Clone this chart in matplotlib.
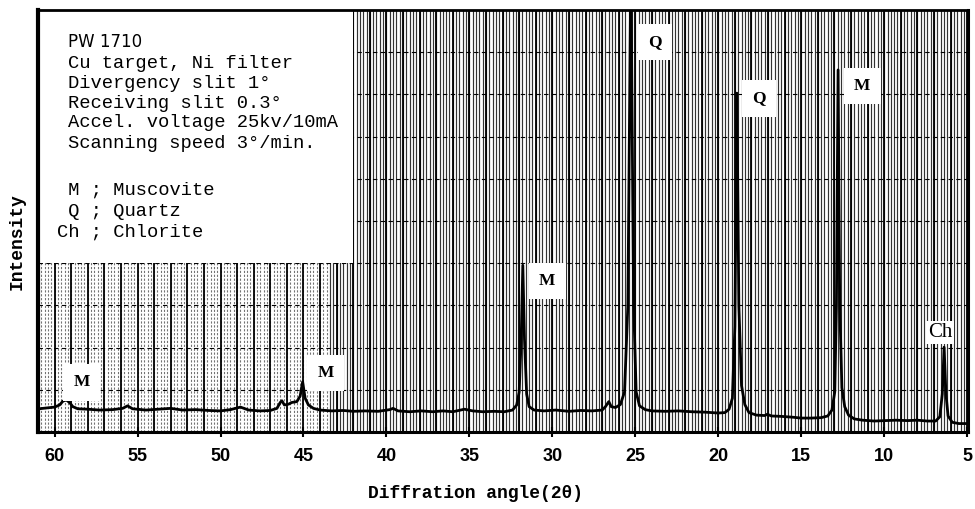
import numpy as np
import matplotlib.pyplot as plt
from matplotlib.patches import Rectangle

# diffractogram trace: 2-theta (deg) and relative intensity
two_theta = [60.95, 60.5, 60.0, 59.7, 59.5, 59.3, 59.1, 58.9, 58.6, 58.0,
             57.3, 56.5, 55.9, 55.6, 55.3, 54.5, 53.7, 53.0, 52.3, 51.5,
             50.7, 50.0, 49.4, 48.8, 48.3, 47.6, 47.0, 46.6, 46.4, 46.3,
             46.15, 45.9, 45.7, 45.4, 45.2, 45.05, 44.9, 44.7, 44.4, 44.0,
             43.3, 42.6, 42.0, 41.3, 40.5, 39.8, 39.6, 39.3, 38.6, 37.9,
             37.2, 36.6, 36.0, 35.3, 34.8, 34.2, 33.5, 32.9, 32.4, 32.15,
             32.0, 31.88, 31.78, 31.68, 31.55, 31.4, 31.1, 30.5, 29.8, 29.0,
             28.3, 27.6, 27.0, 26.8, 26.6, 26.45, 26.2, 25.9, 25.65, 25.45,
             25.27, 25.1, 24.95, 24.75, 24.4, 24.0, 23.2, 22.4, 21.6, 20.8,
             20.0, 19.6, 19.35, 19.15, 19.0, 18.88, 18.76, 18.6, 18.4, 18.15,
             17.7, 17.2, 17.05, 16.8, 16.2, 15.5, 15.0, 14.4, 13.8, 13.4,
             13.15, 12.98, 12.88, 12.78, 12.68, 12.55, 12.38, 12.15, 11.8, 11.3,
             10.6, 10.0, 9.3, 8.6, 8.0, 7.4, 6.9, 6.65, 6.5, 6.39,
             6.28, 6.15, 5.9, 5.5, 4.95]
intensity = [5.5, 5.7, 5.9, 6.4, 7.3, 7.6, 7.0, 6.0, 5.5, 5.4,
             5.2, 5.3, 5.6, 6.2, 5.5, 5.2, 5.4, 5.6, 5.2, 5.3,
             5.1, 5.0, 5.3, 5.9, 5.2, 5.0, 5.1, 5.6, 7.0, 7.4,
             6.4, 6.6, 7.0, 7.2, 8.5, 11.9, 8.0, 6.4, 5.6, 5.2,
             5.0, 5.1, 4.9, 5.0, 4.9, 5.3, 5.6, 5.0, 4.8, 5.0,
             4.8, 5.0, 4.8, 5.4, 5.0, 4.8, 4.9, 4.8, 5.2, 6.4,
             9.5, 22.0, 39.5, 22.0, 9.0, 6.0, 5.2, 5.0, 5.2, 4.9,
             5.1, 5.0, 5.2, 6.0, 7.2, 6.0, 5.8, 6.5, 9.5, 30.0,
             110.0, 30.0, 9.5, 6.2, 5.3, 5.0, 4.9, 5.0, 4.8, 4.7,
             4.5, 4.6, 5.4, 8.0, 25.0, 80.3, 30.0, 11.0, 6.5, 4.6,
             4.0, 3.9, 4.2, 3.8, 3.7, 3.5, 3.3, 3.3, 3.4, 3.8,
             5.2, 9.5, 30.0, 85.8, 30.0, 10.5, 6.0, 4.0, 3.1, 2.8,
             2.6, 2.7, 2.8, 2.7, 2.8, 2.6, 2.6, 3.6, 9.0, 20.1,
             9.0, 3.8, 2.3, 2.0, 2.0]

# phase labels on the peaks
peak_labels = ["M", "M", "M", "Q", "Q", "M", "Ch"]
label_x = [58.37, 43.67, 30.30, 23.80, 17.53, 11.33, 6.63]
label_y = [11.8, 14.0, 35.8, 92.4, 79.1, 82.0, 23.5]

tick_angles = [60, 55, 50, 45, 40, 35, 30, 25, 20, 15, 10, 5]

info_lines = ["Cu target, Ni filter", "Divergency slit 1°",
              "Receiving slit 0.3°", "Accel. voltage 25kv/10mA",
              "Scanning speed 3°/min."]
legend_lines = [" M ; Muscovite", " Q ; Quartz", "Ch ; Chlorite"]

mono = ["Liberation Mono", "DejaVu Sans Mono"]
serif = ["Liberation Serif", "DejaVu Serif"]

fig = plt.figure(figsize=(9.75, 5.09), dpi=100)
ax = fig.add_axes([38 / 975, 77 / 509, 930 / 975, 422 / 509])
ax.set_xlim(61.0, 4.95)
ax.set_ylim(0, 100)

# recorder paper rulings
fine = np.arange(5.0, 61.01, 0.2)
ax.vlines(fine[fine > 43.5], 0, 100, color="0.45", lw=0.8,
          linestyles=(0, (2, 1.5)), zorder=1)
ax.vlines(fine[fine <= 43.5], 0, 100, color="0.2", lw=0.85, zorder=1)
ax.vlines(np.arange(5, 62, 1), 0, 100, color="black", lw=1.3, zorder=1)
ax.hlines(np.arange(10, 100, 10), 4.95, 61.0, color="black", lw=0.8,
          linestyles=(0, (4, 3)), zorder=1)

# instrument notes panel
ax.add_patch(Rectangle((0, 1 - 253 / 422), 315 / 930, 253 / 422,
                       transform=ax.transAxes, facecolor="white",
                       edgecolor="none", zorder=2))

ax.plot(two_theta, intensity, color="black", lw=2.0, zorder=4)

for lab, x, y in zip(peak_labels, label_x, label_y):
    if lab == "Ch":
        ax.text(x, y, lab, ha="center", va="center", family=serif,
                fontsize=15, zorder=5,
                bbox=dict(facecolor="white", edgecolor="none",
                          boxstyle="square,pad=0.1"))
    else:
        ax.text(x, y, lab, ha="center", va="center", family=serif,
                fontweight="bold", fontsize=12.5, zorder=5,
                bbox=dict(facecolor="white", edgecolor="none",
                          boxstyle="square,pad=0.6"))

fig.text(68 / 975, 1 - 42 / 509, "PW 1710", family="DejaVu Sans",
         fontsize=12, va="center")
for i, line in enumerate(info_lines):
    fig.text(68 / 975, 1 - (63 + 20 * i) / 509, line, family=mono,
             fontsize=13.5, va="center")
for i, line in enumerate(legend_lines):
    fig.text(57 / 975, 1 - (190 + 21 * i) / 509, line, family=mono,
             fontsize=13.5, va="center")

ax.set_xticks(tick_angles)
ax.set_xticklabels([str(t) for t in tick_angles], fontweight="bold",
                   fontsize=13, family="Liberation Sans")
ax.tick_params(axis="x", direction="inout", length=7, width=1.5, pad=8)
ax.set_yticks([])
for side, w in [("left", 3.0), ("bottom", 2.2), ("top", 2.0), ("right", 2.2)]:
    ax.spines[side].set_linewidth(w)

fig.text(17 / 975, 1 - 242 / 509, "Intensity", rotation=90, family=mono,
         fontweight="bold", fontsize=13, ha="center", va="center")
fig.text(476 / 975, 1 - 494 / 509, "Diffration angle(2θ)", family=mono,
         fontweight="bold", fontsize=13, ha="center", va="center")

fig.savefig("out.png", dpi=100)
